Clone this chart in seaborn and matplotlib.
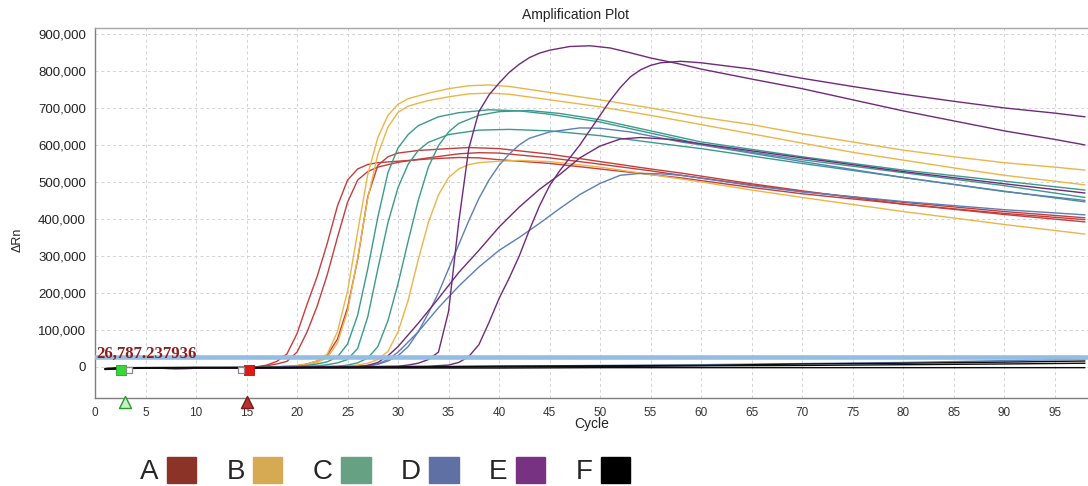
import matplotlib
matplotlib.use("Agg")
import matplotlib.pyplot as plt
import matplotlib.transforms as mtransforms
from matplotlib.patches import Patch
from matplotlib.ticker import FuncFormatter, MultipleLocator
import numpy as np
import pandas as pd
import seaborn as sns

# ---------------------------------------------------------------------------
# qPCR amplification curves: cycle number and delta Rn (thousands) per well
# ---------------------------------------------------------------------------
A1_cycle = [1, 3, 8, 15, 16, 17, 18, 19, 20, 21, 22, 23, 24, 25, 26, 27, 28, 30, 33, 36, 38, 40, 45, 50, 55, 58, 65, 70, 80, 90, 98]
A1_drn = [-6, -3, -4, -3, 0, 5, 15, 35, 90, 170, 245, 335, 435, 505, 535, 547, 552, 556, 562, 566, 565, 560, 550, 535, 520, 511, 485, 468, 440, 415, 398]

A2_cycle = [1, 3, 8, 15, 17, 18, 19, 20, 21, 22, 23, 24, 25, 26, 27, 28, 30, 33, 36, 38, 40, 45, 50, 55, 58, 65, 70, 80, 90, 98]
A2_drn = [-6, -3, -4, -3, 3, 8, 15, 40, 95, 165, 250, 350, 445, 505, 528, 540, 553, 565, 576, 579, 578, 565, 548, 530, 518, 492, 474, 445, 420, 403]

A3_cycle = [1, 3, 8, 15, 20, 21, 22, 23, 24, 25, 26, 27, 28, 29, 30, 32, 35, 37, 40, 45, 50, 55, 58, 65, 70, 80, 90, 98]
A3_drn = [-6, -3, -4, -3, 3, 8, 16, 32, 75, 160, 290, 460, 545, 568, 578, 585, 590, 593, 590, 575, 555, 535, 524, 495, 476, 440, 412, 392]

B1_cycle = [1, 3, 8, 15, 19, 20, 21, 22, 23, 24, 25, 26, 27, 28, 29, 30, 31, 33, 35, 37, 39, 41, 45, 50, 55, 60, 65, 70, 75, 80, 85, 90, 95, 98]
B1_drn = [-6, -3, -4, -3, 2, 4, 8, 16, 35, 95, 205, 365, 520, 620, 680, 710, 725, 740, 752, 760, 762, 758, 742, 722, 700, 675, 655, 630, 608, 586, 568, 552, 540, 532]

B2_cycle = list(B1_cycle)
B2_drn = [-6, -3, -4, -3, 1, 3, 6, 12, 25, 65, 150, 295, 455, 575, 648, 688, 705, 720, 730, 738, 740, 737, 722, 703, 680, 655, 630, 605, 580, 559, 538, 518, 502, 492]

B3_cycle = [1, 3, 8, 15, 25, 26, 27, 28, 29, 30, 31, 32, 33, 34, 35, 36, 37, 38, 40, 42, 45, 50, 55, 60, 65, 70, 80, 90, 98]
B3_drn = [-6, -3, -4, -3, 2, 5, 10, 20, 42, 95, 180, 290, 390, 465, 512, 535, 547, 552, 556, 558, 555, 540, 520, 500, 478, 458, 420, 385, 359]

C1_cycle = [1, 3, 8, 15, 20, 21, 22, 23, 24, 25, 26, 27, 28, 29, 30, 31, 32, 34, 36, 39, 42, 45, 50, 55, 60, 65, 70, 80, 90, 98]
C1_drn = [-6, -3, -4, -3, 2, 4, 8, 14, 27, 62, 140, 265, 405, 525, 592, 628, 652, 676, 687, 695, 692, 683, 662, 632, 602, 580, 560, 525, 490, 458]

C2_cycle = [1, 3, 8, 15, 22, 23, 24, 25, 26, 27, 28, 29, 30, 31, 32, 33, 35, 38, 41, 45, 50, 55, 60, 70, 80, 90, 98]
C2_drn = [-6, -3, -4, -3, 3, 6, 11, 20, 50, 135, 265, 390, 485, 548, 585, 607, 628, 640, 642, 638, 625, 607, 590, 550, 512, 475, 446]

C3_cycle = [1, 3, 8, 15, 24, 25, 26, 27, 28, 29, 30, 31, 32, 33, 34, 35, 36, 38, 40, 43, 46, 50, 55, 60, 70, 80, 90, 98]
C3_drn = [-6, -3, -4, -3, 2, 5, 11, 24, 55, 125, 225, 340, 450, 540, 598, 635, 658, 680, 690, 693, 685, 668, 638, 608, 568, 532, 502, 478]

D1_cycle = [1, 3, 8, 15, 26, 28, 29, 30, 31, 32, 33, 34, 35, 36, 37, 38, 39, 40, 41, 42, 43, 45, 48, 50, 53, 58, 60, 70, 80, 90, 98]
D1_drn = [-6, -3, -4, -3, 1, 7, 16, 30, 55, 95, 145, 200, 265, 330, 395, 455, 505, 545, 575, 600, 618, 635, 646, 645, 635, 608, 600, 555, 512, 474, 450]

D2_cycle = [1, 3, 8, 15, 27, 28, 29, 30, 32, 34, 36, 38, 40, 42, 44, 46, 48, 50, 52, 54, 56, 58, 60, 65, 70, 80, 90, 98]
D2_drn = [-6, -3, -4, -3, 2, 8, 20, 40, 95, 160, 218, 270, 315, 350, 388, 428, 466, 496, 518, 523, 522, 518, 510, 490, 473, 447, 425, 411]

D3_cycle = [1, 3, 10, 20, 30, 40, 50, 60, 70, 80, 90, 98]
D3_drn = [-5, -3, -2, -1, 0, 2, 4, 6, 9, 12, 17, 21]

E1_cycle = [1, 3, 8, 15, 30, 31, 32, 33, 34, 35, 36, 37, 38, 39, 40, 41, 42, 43, 44, 45, 47, 49, 51, 53, 55, 58, 60, 65, 70, 75, 80, 85, 90, 95, 98]
E1_drn = [-6, -3, -4, -3, 2, 5, 10, 20, 40, 150, 390, 590, 690, 735, 767, 796, 818, 836, 848, 856, 866, 868, 862, 849, 835, 818, 805, 778, 752, 722, 692, 665, 638, 615, 600]

E2_cycle = [1, 3, 8, 15, 33, 35, 36, 37, 38, 39, 40, 41, 42, 43, 44, 45, 46, 47, 48, 49, 50, 51, 52, 53, 54, 55, 56, 58, 60, 65, 70, 75, 80, 85, 90, 95, 98]
E2_drn = [-6, -3, -4, -3, 2, 5, 12, 28, 60, 120, 185, 240, 300, 370, 435, 490, 530, 565, 600, 640, 680, 720, 755, 784, 803, 815, 822, 826, 822, 805, 780, 758, 737, 718, 700, 686, 676]

E3_cycle = [1, 3, 8, 15, 26, 27, 28, 29, 30, 32, 34, 36, 38, 40, 42, 44, 46, 48, 50, 52, 54, 57, 60, 70, 80, 90, 98]
E3_drn = [-6, -3, -4, -3, 1, 4, 12, 30, 55, 118, 185, 255, 315, 378, 432, 480, 520, 565, 597, 616, 620, 615, 603, 565, 528, 495, 470]

F_cycle = [1, 3, 10, 20, 30, 40, 50, 60, 70, 80, 90, 98]
F1_drn = [-7, -4, -3, -3, -3, -3, -2, -2, -2, -2, -2, -2]
F2_drn = [-5, -3, -2, -2, -1, 0, 1, 3, 4, 6, 8, 10]
F3_drn = [-4, -2, -1, -1, 0, 2, 3, 4, 8, 10, 13, 16]

threshold = 26787.237936
baseline_start = 3
baseline_end = 15

groups = ["A", "B", "C", "D", "E", "F"]
line_colors = ["#c43d3d", "#ebb548", "#3a9a8b", "#5b7fb6", "#70297a", "#0d0d0d"]
legend_colors = ["#8b3326", "#d6aa52", "#65a182", "#5f70a4", "#783282", "#000000"]

curves = [
    ("A", "A1", A1_cycle, A1_drn), ("A", "A2", A2_cycle, A2_drn), ("A", "A3", A3_cycle, A3_drn),
    ("B", "B1", B1_cycle, B1_drn), ("B", "B2", B2_cycle, B2_drn), ("B", "B3", B3_cycle, B3_drn),
    ("C", "C1", C1_cycle, C1_drn), ("C", "C2", C2_cycle, C2_drn), ("C", "C3", C3_cycle, C3_drn),
    ("D", "D1", D1_cycle, D1_drn), ("D", "D2", D2_cycle, D2_drn), ("D", "D3", D3_cycle, D3_drn),
    ("E", "E1", E1_cycle, E1_drn), ("E", "E2", E2_cycle, E2_drn), ("E", "E3", E3_cycle, E3_drn),
    ("F", "F1", F_cycle, F1_drn), ("F", "F2", F_cycle, F2_drn), ("F", "F3", F_cycle, F3_drn),
]

rows = []
for grp, well, cyc, drn in curves:
    for c, v in zip(cyc, drn):
        rows.append({"group": grp, "well": well, "cycle": c, "drn": v * 1000.0})
df = pd.DataFrame(rows)

# ---------------------------------------------------------------------------
sns.set_style("white")
plt.rcParams["font.family"] = ["Liberation Sans", "DejaVu Sans"]

fig = plt.figure(figsize=(10.88, 4.86), dpi=100)
ax = fig.add_axes([95 / 1088, 1 - 398 / 486, 993 / 1088, 370 / 486])

sns.lineplot(
    data=df, x="cycle", y="drn", hue="group", units="well", estimator=None,
    hue_order=groups, palette=dict(zip(groups, line_colors)),
    linewidth=1.0, legend=False, ax=ax, zorder=3,
)

# threshold line and its value
ax.axhline(threshold, color="#93bde2", linewidth=3.3, zorder=5)
ax.text(0.15, 24000, f"{threshold:,.6f}", color="#8e1c1c", fontsize=12,
        fontweight="bold", family="Liberation Serif", ha="left", va="baseline", zorder=6)

# baseline start / end markers
ax.scatter([baseline_start - 0.4], [-7000], marker="s", s=42, color="#35d835",
           edgecolor="#22a022", linewidth=0.6, zorder=7)
ax.scatter([baseline_start + 0.35], [-7000], marker="s", s=20, facecolor="white",
           edgecolor="#8a8a8a", linewidth=0.9, zorder=7)
ax.scatter([baseline_end + 0.2], [-7000], marker="s", s=42, color="#e01818",
           edgecolor="#b01010", linewidth=0.6, zorder=7)
ax.scatter([baseline_end - 0.5], [-7000], marker="s", s=20, facecolor="white",
           edgecolor="#8a8a8a", linewidth=0.9, zorder=7)
trans = mtransforms.blended_transform_factory(ax.transData, ax.transAxes)
ax.scatter([baseline_start], [-0.012], marker="^", s=75, facecolor="#c8f0c8",
           edgecolor="#2a9a2a", linewidth=1.0, transform=trans, clip_on=False, zorder=8)
ax.scatter([baseline_end], [-0.012], marker="^", s=75, facecolor="#b83030",
           edgecolor="#7a1a1a", linewidth=1.0, transform=trans, clip_on=False, zorder=8)

# axes styling
ax.set_xlim(0, 98.3)
ax.set_ylim(-84000, 916000)
ax.xaxis.set_major_locator(MultipleLocator(5))
ax.set_yticks(np.arange(0, 900001, 100000))
ax.yaxis.set_major_formatter(FuncFormatter(lambda v, p: f"{int(round(v)):,}"))
ax.grid(True, linestyle=(0, (3, 3)), color="#d2d2d2", linewidth=0.7, zorder=0)
ax.set_axisbelow(True)
ax.set_xlabel("")
ax.set_ylabel("")
for side in ("left", "bottom"):
    ax.spines[side].set_color("#7f7f7f")
    ax.spines[side].set_linewidth(1.0)
ax.spines["top"].set_color("#a8a8a8")
ax.spines["top"].set_linewidth(1.0)
ax.spines["right"].set_visible(False)
ax.tick_params(axis="both", direction="out", length=3.5, width=0.8, color="#7f7f7f")
ax.tick_params(axis="y", labelsize=9.5, pad=3, labelcolor="#222222")
ax.tick_params(axis="x", labelsize=8.5, pad=3, labelcolor="#333333")

fig.text(576 / 1088, 1 - 15 / 486, "Amplification Plot", ha="center", va="center",
         fontsize=10, color="#222222")
fig.text(592 / 1088, 1 - 424 / 486, "Cycle", ha="center", va="center",
         fontsize=10, color="#222222")
fig.text(18 / 1088, 1 - 240 / 486, "ΔRn", ha="center", va="center", rotation=90,
         fontsize=9, color="#222222")

# group legend: letter followed by a colour square
handles = [Patch(facecolor=c, edgecolor=c) for c in legend_colors]
fig.legend(handles, groups, ncol=6, markerfirst=False, frameon=False,
           loc="center", bbox_to_anchor=(385 / 1088, 1 - 471 / 486),
           fontsize=20, handlelength=1.05, handleheight=1.05,
           handletextpad=0.3, columnspacing=1.1, borderaxespad=0)

fig.savefig("out.png", dpi=100, facecolor="white")
